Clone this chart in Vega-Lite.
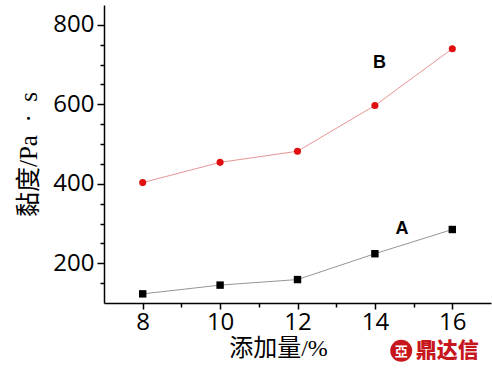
{
  "$schema": "https://vega.github.io/schema/vega-lite/v6.json",
  "autosize": {"type": "none"},
  "padding": {"left": 104, "top": 5, "right": 1, "bottom": 66},
  "width": 387,
  "height": 298,
  "background": "white",
  "config": {"view": {"stroke": null}},
  "resolve": {"scale": {"color": "independent"}},
  "datasets": {
    "pts": [
      {"x": 8, "y": 123, "s": "A"},
      {"x": 10, "y": 145, "s": "A"},
      {"x": 12, "y": 159, "s": "A"},
      {"x": 14, "y": 224, "s": "A"},
      {"x": 16, "y": 285, "s": "A"},
      {"x": 8, "y": 403, "s": "B"},
      {"x": 10, "y": 454, "s": "B"},
      {"x": 12, "y": 482, "s": "B"},
      {"x": 14, "y": 597, "s": "B"},
      {"x": 16, "y": 740, "s": "B"}
    ],
    "labels": [
      {"x": 14.7, "y": 287, "t": "A"},
      {"x": 14.12, "y": 703, "t": "B"}
    ],
    "wm": [
      {"x": 15.87, "y": -20, "t": "鼎达信", "lx": 14.68}
    ]
  },
  "encoding": {
    "x": {"field": "x", "type": "quantitative",
      "scale": {"domain": [7, 17], "nice": false, "zero": false},
      "axis": {
        "values": [8, 9, 10, 11, 12, 13, 14, 15, 16],
        "labelExpr": "datum.value % 2 === 0 ? datum.label : ''",
        "title": "添加量/%",
        "grid": false,
        "domainColor": "black", "domainWidth": 1.5,
        "tickColor": "black", "tickWidth": 1.5,
        "tickSize": {"condition": {"test": "datum.value % 2 === 0", "value": 6}, "value": 4},
        "labelFont": "Open Sans", "labelFontSize": 24, "labelColor": "black",
        "labelPadding": 1, "labelOverlap": false, "labelFlush": false,
        "titleFont": "Liberation Serif, Noto Sans CJK SC", "titleFontSize": 24,
        "titleFontWeight": "normal", "titleColor": "black", "titlePadding": 2,
        "titleX": 174, "titleAlign": "center"
      }
    },
    "y": {"field": "y", "type": "quantitative",
      "scale": {"domain": [100, 850], "nice": false, "zero": false},
      "axis": {
        "values": [150, 200, 250, 300, 350, 400, 450, 500, 550, 600, 650, 700, 750, 800],
        "labelExpr": "datum.value % 200 === 0 ? datum.label : ''",
        "title": "黏度/Pa\u00a0\u00a0·\u00a0\u00a0s",
        "grid": false,
        "domainColor": "black", "domainWidth": 1.5,
        "tickColor": "black", "tickWidth": 1.5,
        "tickSize": {"condition": {"test": "datum.value % 200 === 0", "value": 7}, "value": 4},
        "labelFont": "Open Sans", "labelFontSize": 24, "labelColor": "black",
        "labelPadding": 3, "labelOverlap": false, "labelFlush": false,
        "titleFont": "Liberation Serif, Noto Sans CJK SC", "titleFontSize": 25,
        "titleFontWeight": "normal", "titleColor": "black", "titlePadding": 11
      }
    }
  },
  "layer": [
    {
      "data": {"name": "pts"},
      "mark": {"type": "line", "strokeWidth": 0.8},
      "encoding": {
        "detail": {"field": "s"},
        "color": {"field": "s", "type": "nominal", "legend": null,
          "scale": {"domain": ["A", "B"], "range": ["#7a7a7a", "#e07a7a"]}}
      }
    },
    {
      "data": {"name": "pts"},
      "mark": {"type": "point", "filled": true, "opacity": 1},
      "encoding": {
        "shape": {"field": "s", "type": "nominal", "legend": null,
          "scale": {"domain": ["A", "B"], "range": ["square", "circle"]}},
        "size": {"field": "s", "type": "nominal", "legend": null,
          "scale": {"domain": ["A", "B"], "range": [55, 50]}},
        "fill": {"field": "s", "type": "nominal", "legend": null,
          "scale": {"domain": ["A", "B"], "range": ["#000000", "#e01010"]}}
      }
    },
    {
      "data": {"name": "labels"},
      "mark": {"type": "text", "font": "Liberation Sans", "fontSize": 18, "fontWeight": "bold", "color": "black", "align": "center", "baseline": "middle"},
      "encoding": {"text": {"field": "t"}}
    },
    {
      "data": {"name": "wm"},
      "mark": {"type": "point", "shape": "circle", "filled": true, "size": 480, "color": "#c8161d", "opacity": 1},
      "encoding": {"x": {"field": "lx", "type": "quantitative"}}
    },
    {
      "data": {"name": "wm"},
      "mark": {"type": "text", "font": "Noto Sans CJK SC", "fontSize": 13, "fontWeight": "bold", "color": "white", "align": "center", "baseline": "middle", "dy": 1},
      "encoding": {"x": {"field": "lx", "type": "quantitative"}, "text": {"value": "亞"}}
    },
    {
      "data": {"name": "wm"},
      "mark": {"type": "text", "font": "Noto Sans CJK SC", "fontSize": 21, "fontWeight": 900, "color": "#c8161d", "align": "center", "baseline": "middle"},
      "encoding": {"text": {"field": "t"}}
    }
  ]
}
